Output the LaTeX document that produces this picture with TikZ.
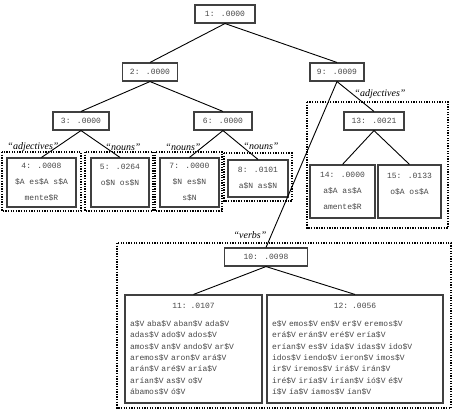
\documentclass[tikz,border=0pt]{standalone}
\usepackage{fontspec}
\setmainfont{Liberation Serif}
\newfontfamily\treefont{Liberation Mono}
\usetikzlibrary{positioning}

\begin{document}
\begin{tikzpicture}[
  x=1pt, y=-1pt,
  every node/.style={inner sep=0pt},
  split/.style  ={draw=black!75, line width=1.1pt, text=black!72,
                  font=\treefont\fontsize{8}{16}\selectfont,
                  minimum height=18pt, align=center},
  leaf/.style   ={draw=black!75, line width=1.1pt, text=black!72,
                  font=\treefont\fontsize{8}{16}\selectfont,
                  align=center},
  bigleaf/.style={draw=black!75, line width=1.1pt, text=black!72,
                  font=\treefont\fontsize{8}{11.3}\selectfont,
                  inner xsep=5pt, minimum height=108pt, align=left},
  group/.style  ={line width=1.4pt, dash pattern=on 1.3pt off 1.3pt},
  tag/.style    ={font=\itshape\fontsize{10}{12}\selectfont},
  edge/.style   ={line width=0.9pt}
]
\useasboundingbox (0,0) rectangle (456,410);

%% --- Dotted class frames -------------------------------------
\draw[group] (2,152)   rectangle (81,211);
\draw[group] (85,152)  rectangle (153,211);
\draw[group] (155,152) rectangle (222,211);
\draw[group] (224,153) rectangle (292,201);
\draw[group] (307,102) rectangle (448,228);
\draw[group] (117,243) rectangle (451,408);

%% --- Inner splits --------------------------------------------
\node[split, minimum width=60pt] (n1)  at (225,14)  {1: .0000};
\node[split, minimum width=55pt] (n2)  at (150,72)  {2: .0000};
\node[split, minimum width=54pt] (n9)  at (337,72)  {9: .0009};
\node[split, minimum width=56pt] (n3)  at (81,121)  {3: .0000};
\node[split, minimum width=58pt] (n6)  at (223,121) {6: .0000};
\node[split, minimum width=60pt] (n13) at (374,121) {13: .0021};
\node[split, minimum width=83pt] (n10) at (266,257) {10: .0098};

%% --- Leaves --------------------------------------------------
\node[leaf, minimum width=69pt, minimum height=49pt] (n4) at (41.5,182.5)
     {4: .0008\\\$A es\$A s\$A\\mente\$R};
\node[leaf, minimum width=58pt, minimum height=49pt] (n5) at (120,182.5)
     {5: .0264\\o\$N os\$N\\\mbox{}};
\node[leaf, minimum width=59pt, minimum height=49pt] (n7) at (189.5,182.5)
     {7: .0000\\\$N es\$N\\s\$N};
\node[leaf, minimum width=60pt, minimum height=37pt] (n8) at (258,178.5)
     {8: .0101\\a\$N as\$N};
\node[leaf, minimum width=65pt, minimum height=53pt] (n14) at (342.5,191.5)
     {14: .0000\\a\$A as\$A\\amente\$R};
\node[leaf, minimum width=63pt, minimum height=53pt] (n15) at (409.5,191.5)
     {15: .0133\\o\$A os\$A\\\mbox{}};

\node[bigleaf, text width=127pt] (n11) at (193.5,349)
     {\makebox[\linewidth]{11: .0107}\\[6.7pt]
      a\$V aba\$V aban\$V ada\$V\\
      adas\$V ado\$V ados\$V\\
      amos\$V an\$V ando\$V ar\$V\\
      aremos\$V aron\$V ará\$V\\
      arán\$V aré\$V aría\$V\\
      arían\$V as\$V o\$V\\
      ábamos\$V ó\$V};
\node[bigleaf, text width=166pt] (n12) at (355,349)
     {\makebox[\linewidth]{12: .0056}\\[6.7pt]
      e\$V emos\$V en\$V er\$V eremos\$V\\
      erá\$V erán\$V eré\$V ería\$V\\
      erían\$V es\$V ida\$V idas\$V ido\$V\\
      idos\$V iendo\$V ieron\$V imos\$V\\
      ir\$V iremos\$V irá\$V irán\$V\\
      iré\$V iría\$V irían\$V ió\$V é\$V\\
      í\$V ía\$V íamos\$V ían\$V};

%% --- Class tags ----------------------------------------------
\node[tag] (t4)  at (33,147)  {“adjectives”};
\node[tag] (t5)  at (123,147) {“nouns”};
\node[tag] (t7)  at (183,147) {“nouns”};
\node[tag] (t8)  at (261,146) {“nouns”};
\node[tag] (t13) at (380,94)  {“adjectives”};
\node[tag] (t10) at (250,235) {“verbs”};

%% --- Tree edges ----------------------------------------------
\draw[edge] (n1.south)  -- (n2.north);
\draw[edge] (n1.south)  -- (n9.north);
\draw[edge] (n2.south)  -- (n3.north);
\draw[edge] (n2.south)  -- (n6.north);
\draw[edge] (n3.south)  -- (n4.north);
\draw[edge] (n3.south)  -- (n5.north);
\draw[edge] (n6.south)  -- (n7.north);
\draw[edge] (n6.south)  -- (n8.north);
\draw[edge] (n9.south)  -- (n13.north);
\draw[edge] (n9.south)  -- (n10.north);
\draw[edge] (n13.south) -- (n14.north);
\draw[edge] (n13.south) -- (n15.north);
\draw[edge] (n10.south) -- (n11.north);
\draw[edge] (n10.south) -- (n12.north);

\end{tikzpicture}
\end{document}
